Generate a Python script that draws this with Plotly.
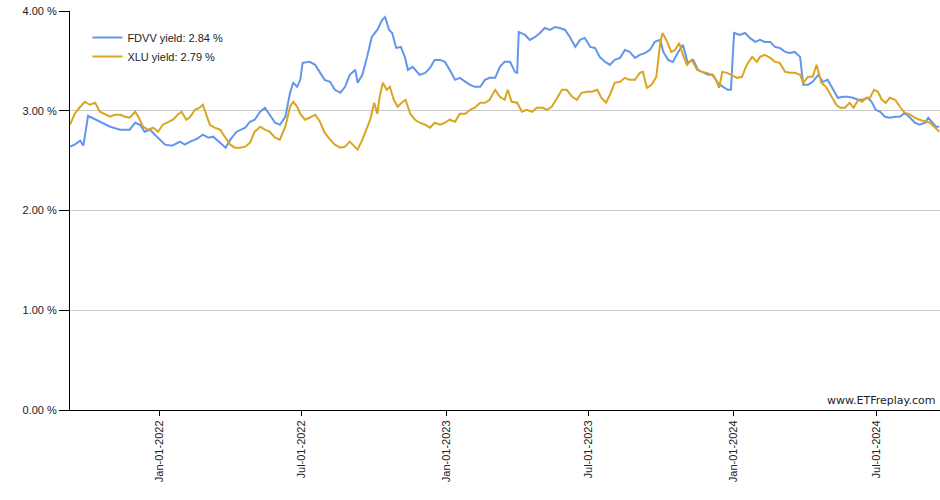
import pandas as pd
import plotly.graph_objects as go

START_DATE = "2021-09-09"

fdvv_days = [0, 6, 13, 17, 23, 28, 38, 51, 64, 76,
             83, 89, 95, 102, 108, 115, 121, 130, 140, 146,
             153, 162, 169, 176, 182, 191, 198, 204, 212, 223,
             229, 235, 242, 248, 254, 261, 267, 274, 280, 284,
             289, 293, 296, 305, 312, 318, 324, 331, 337, 344,
             350, 356, 363, 366, 372, 378, 384, 391, 397, 401,
             406, 410, 415, 421, 426, 430, 436, 445, 452, 458,
             464, 471, 477, 483, 490, 496, 503, 509, 515, 522,
             528, 534, 541, 547, 553, 560, 566, 569, 571, 579,
             585, 592, 598, 604, 611, 617, 623, 630, 636, 643,
             649, 655, 662, 668, 674, 681, 687, 693, 700, 706,
             712, 719, 725, 732, 738, 744, 751, 755, 761, 767,
             774, 780, 786, 793, 799, 805, 812, 818, 824, 831,
             837, 841, 845, 852, 859, 865, 872, 878, 884, 891,
             897, 903, 910, 916, 922, 929, 933, 939, 945, 952,
             958, 964, 971, 977, 984, 990, 996, 1003, 1009, 1015,
             1020, 1025, 1031, 1037, 1043, 1050, 1056, 1062, 1069, 1075,
             1081, 1088, 1092, 1097, 1102, 1106]
fdvv_yield = [2.64, 2.66, 2.70, 2.65, 2.95, 2.93, 2.89, 2.84, 2.81, 2.81,
              2.88, 2.86, 2.79, 2.81, 2.76, 2.71, 2.66, 2.65, 2.69, 2.66,
              2.69, 2.72, 2.76, 2.73, 2.74, 2.68, 2.63, 2.71, 2.79, 2.83,
              2.89, 2.91, 2.99, 3.03, 2.96, 2.88, 2.86, 2.94, 3.18, 3.28,
              3.24, 3.31, 3.48, 3.49, 3.46, 3.39, 3.31, 3.29, 3.21, 3.18,
              3.24, 3.36, 3.41, 3.28, 3.36, 3.54, 3.74, 3.81, 3.91, 3.94,
              3.81, 3.78, 3.63, 3.64, 3.54, 3.41, 3.44, 3.36, 3.38, 3.43,
              3.51, 3.51, 3.49, 3.41, 3.31, 3.33, 3.29, 3.26, 3.24, 3.24,
              3.31, 3.33, 3.33, 3.44, 3.49, 3.49, 3.39, 3.38, 3.79, 3.76,
              3.71, 3.74, 3.78, 3.83, 3.81, 3.84, 3.83, 3.81, 3.74, 3.64,
              3.71, 3.73, 3.64, 3.63, 3.54, 3.49, 3.46, 3.51, 3.53, 3.61,
              3.59, 3.53, 3.56, 3.58, 3.61, 3.69, 3.71, 3.59, 3.51, 3.49,
              3.59, 3.66, 3.48, 3.51, 3.41, 3.39, 3.36, 3.36, 3.28, 3.24,
              3.21, 3.21, 3.78, 3.76, 3.78, 3.73, 3.69, 3.71, 3.69, 3.69,
              3.64, 3.63, 3.59, 3.58, 3.59, 3.54, 3.26, 3.26, 3.29, 3.36,
              3.29, 3.31, 3.21, 3.13, 3.14, 3.14, 3.13, 3.11, 3.11, 3.13,
              3.09, 3.01, 2.99, 2.94, 2.93, 2.94, 2.94, 2.98, 2.93, 2.88,
              2.86, 2.88, 2.93, 2.89, 2.84, 2.84]

xlu_days = [0, 6, 13, 19, 25, 32, 38, 45, 51, 57,
            64, 70, 76, 83, 87, 93, 99, 106, 112, 118,
            125, 131, 137, 142, 148, 153, 159, 165, 169, 173,
            178, 184, 191, 197, 204, 210, 216, 223, 229, 235,
            242, 248, 254, 261, 267, 274, 280, 284, 289, 293,
            299, 305, 312, 318, 324, 331, 337, 344, 350, 356,
            363, 366, 372, 377, 382, 387, 391, 394, 398, 403,
            407, 412, 417, 422, 427, 433, 439, 445, 452, 458,
            464, 471, 477, 483, 490, 496, 503, 509, 515, 522,
            528, 534, 541, 547, 553, 557, 562, 569, 575, 581,
            588, 594, 601, 607, 613, 620, 626, 632, 639, 645,
            651, 658, 664, 671, 676, 682, 687, 693, 700, 706,
            712, 719, 725, 729, 734, 740, 746, 751, 754, 760,
            765, 770, 775, 780, 785, 791, 798, 804, 810, 817,
            822, 826, 830, 836, 842, 849, 855, 861, 868, 874,
            878, 884, 891, 897, 903, 910, 916, 922, 929, 933,
            939, 945, 950, 956, 962, 968, 975, 980, 986, 992,
            997, 1003, 1008, 1013, 1018, 1023, 1028, 1033, 1038, 1043,
            1050, 1056, 1062, 1069, 1075, 1081, 1088, 1094, 1101, 1106]
xlu_yield = [2.86, 2.97, 3.04, 3.09, 3.06, 3.08, 2.99, 2.96, 2.94, 2.96,
             2.96, 2.94, 2.93, 2.99, 2.94, 2.84, 2.81, 2.83, 2.79, 2.86,
             2.89, 2.91, 2.96, 2.99, 2.91, 2.94, 3.01, 3.03, 3.06, 2.97,
             2.86, 2.83, 2.81, 2.74, 2.66, 2.63, 2.63, 2.64, 2.68, 2.79,
             2.84, 2.81, 2.79, 2.73, 2.71, 2.84, 3.04, 3.09, 3.04, 2.97,
             2.91, 2.93, 2.96, 2.89, 2.78, 2.71, 2.66, 2.63, 2.64, 2.69,
             2.63, 2.61, 2.71, 2.81, 2.91, 3.08, 2.97, 3.14, 3.28, 3.21,
             3.24, 3.11, 3.04, 3.08, 3.11, 2.97, 2.91, 2.88, 2.86, 2.83,
             2.88, 2.86, 2.88, 2.91, 2.89, 2.97, 2.97, 3.01, 3.03, 3.08,
             3.08, 3.11, 3.21, 3.14, 3.11, 3.21, 3.09, 3.08, 2.99, 3.01,
             2.99, 3.03, 3.03, 3.01, 3.04, 3.13, 3.21, 3.21, 3.14, 3.11,
             3.18, 3.19, 3.19, 3.21, 3.13, 3.08, 3.16, 3.28, 3.29, 3.33,
             3.31, 3.31, 3.38, 3.39, 3.23, 3.26, 3.34, 3.68, 3.78, 3.69,
             3.59, 3.61, 3.68, 3.56, 3.46, 3.51, 3.41, 3.39, 3.38, 3.36,
             3.31, 3.23, 3.39, 3.38, 3.36, 3.33, 3.34, 3.46, 3.54, 3.49,
             3.54, 3.56, 3.53, 3.49, 3.48, 3.39, 3.38, 3.38, 3.36, 3.28,
             3.34, 3.34, 3.46, 3.28, 3.24, 3.16, 3.06, 3.03, 3.03, 3.08,
             3.03, 3.11, 3.09, 3.13, 3.13, 3.21, 3.19, 3.11, 3.08, 3.13,
             3.11, 3.04, 2.98, 2.96, 2.93, 2.91, 2.89, 2.88, 2.83, 2.79]

series_names = ["FDVV yield: 2.84 %", "XLU yield: 2.79 %"]
series_colors = ["#6495ED", "#DAA520"]
tick_dates = ["2022-01-01", "2022-07-01", "2023-01-01", "2023-07-01", "2024-01-01", "2024-07-01"]
y_ticks = [0, 1, 2, 3, 4]
y_tick_labels = ["0.00 %", "1.00 %", "2.00 %", "3.00 %", "4.00 %"]

start = pd.Timestamp(START_DATE)
fdvv_dates = start + pd.to_timedelta(fdvv_days, unit="D")
xlu_dates = start + pd.to_timedelta(xlu_days, unit="D")

fig = go.Figure()
fig.add_trace(go.Scatter(x=fdvv_dates, y=fdvv_yield, mode="lines", name=series_names[0],
                         line=dict(color=series_colors[0], width=2)))
fig.add_trace(go.Scatter(x=xlu_dates, y=xlu_yield, mode="lines", name=series_names[1],
                         line=dict(color=series_colors[1], width=2)))

font_family = "Liberation Sans, Arial, sans-serif"
fig.update_layout(
    width=940, height=500,
    margin=dict(l=70, r=0, t=11, b=90),
    paper_bgcolor="white", plot_bgcolor="white",
    font=dict(family=font_family, size=11, color="#222"),
    showlegend=True,
    legend=dict(x=0.02, y=0.97, xanchor="left", yanchor="top",
                bgcolor="rgba(0,0,0,0)", font=dict(size=11, color="#222"),
                itemwidth=30, tracegroupgap=0),
    xaxis=dict(
        range=[start, start + pd.Timedelta(days=1107)],
        tickvals=pd.to_datetime(tick_dates), tickformat="%b-%d-%Y",
        tickangle=-90, ticks="outside", ticklen=5, tickcolor="black",
        showline=True, linecolor="black", linewidth=1,
        showgrid=False, zeroline=False,
    ),
    yaxis=dict(
        range=[0, 4], tickvals=y_ticks, ticktext=y_tick_labels,
        ticks="outside", ticklen=10, tickcolor="black",
        showline=True, linecolor="black", linewidth=1,
        showgrid=True, gridcolor="#c8c8c8", gridwidth=1, zeroline=False,
    ),
    annotations=[dict(text="www.ETFreplay.com", xref="paper", yref="paper",
                      x=1, y=0, xanchor="right", yanchor="bottom",
                      xshift=-3, yshift=1, showarrow=False,
                      font=dict(family="DejaVu Sans, Verdana, sans-serif", size=11, color="#222"))],
)

fig.write_html("out.html")
